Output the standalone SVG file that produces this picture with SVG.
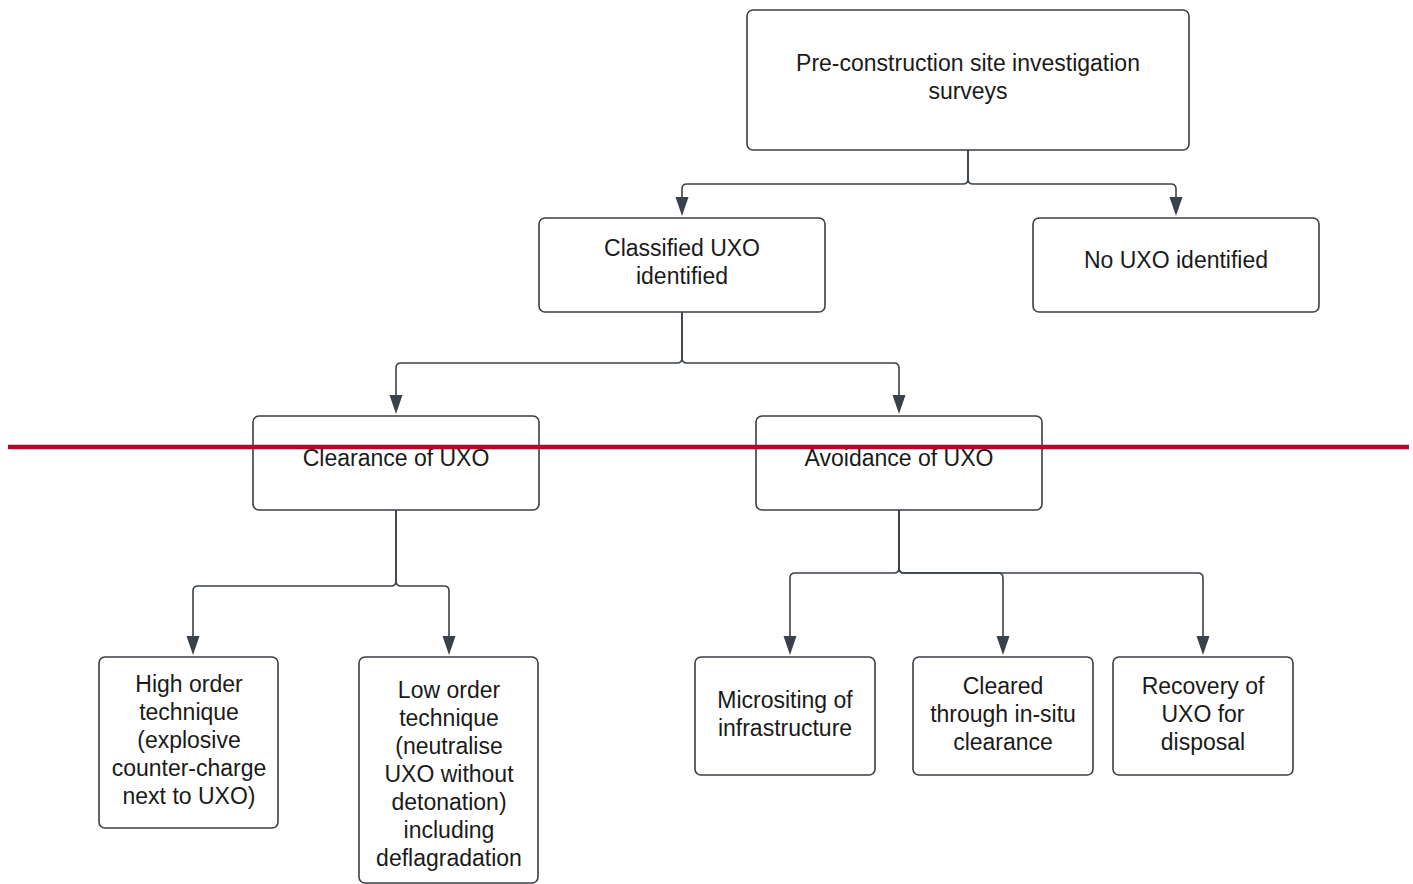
<svg xmlns="http://www.w3.org/2000/svg" width="1413" height="884" viewBox="0 0 1413 884">
<defs>
<style>
.box{fill:#fff;stroke:#3a3f45;stroke-width:1.6}
.t{font-family:"Liberation Sans",Arial,sans-serif;font-size:23px;fill:#1a1a1a;text-anchor:middle}
.c{fill:none;stroke:#3a414a;stroke-width:1.6}
.a{fill:#3a414a}
</style>
</defs>
<rect width="1413" height="884" fill="#fff"/>
<g id="connectors">
<path class="c" d="M968 150 V179 Q968 184 963 184 H687 Q682 184 682 189 V198"/>
<path class="a" d="M675.5 197 H688.5 L682 216 Z"/>
<path class="c" d="M968 150 V179 Q968 184 973 184 H1171 Q1176 184 1176 189 V198"/>
<path class="a" d="M1169.5 197 H1182.5 L1176 216 Z"/>
<path class="c" d="M682 312 V358 Q682 363 677 363 H401 Q396 363 396 368 V396"/>
<path class="a" d="M389.5 395 H402.5 L396 414 Z"/>
<path class="c" d="M682 312 V358 Q682 363 687 363 H894 Q899 363 899 368 V396"/>
<path class="a" d="M892.5 395 H905.5 L899 414 Z"/>
<path class="c" d="M396 510 V581 Q396 586 391 586 H198 Q193 586 193 591 V637"/>
<path class="a" d="M186.5 636 H199.5 L193 655 Z"/>
<path class="c" d="M396 510 V581 Q396 586 401 586 H444 Q449 586 449 591 V637"/>
<path class="a" d="M442.5 636 H455.5 L449 655 Z"/>
<path class="c" d="M899 510 V568 Q899 573 894 573 H795 Q790 573 790 578 V637"/>
<path class="a" d="M783.5 636 H796.5 L790 655 Z"/>
<path class="c" d="M899 510 V568 Q899 573 904 573 H998 Q1003 573 1003 578 V637"/>
<path class="a" d="M996.5 636 H1009.5 L1003 655 Z"/>
<path class="c" d="M899 510 V568 Q899 573 904 573 H1198 Q1203 573 1203 578 V637"/>
<path class="a" d="M1196.5 636 H1209.5 L1203 655 Z"/>
</g>
<g id="n-survey">
<rect class="box" x="747" y="10" width="442" height="140" rx="6"/>
<text class="t" x="968" y="71">Pre-construction site investigation</text>
<text class="t" x="968" y="99">surveys</text>
</g>
<g id="n-classified">
<rect class="box" x="539" y="218" width="286" height="94" rx="6"/>
<text class="t" x="682" y="256">Classified UXO</text>
<text class="t" x="682" y="284">identified</text>
</g>
<g id="n-none">
<rect class="box" x="1033" y="218" width="286" height="94" rx="6"/>
<text class="t" x="1176" y="268">No UXO identified</text>
</g>
<g id="n-clearance">
<rect class="box" x="253" y="416" width="286" height="94" rx="6"/>
<text class="t" x="396" y="466">Clearance of UXO</text>
</g>
<g id="n-avoidance">
<rect class="box" x="756" y="416" width="286" height="94" rx="6"/>
<text class="t" x="899" y="466">Avoidance of UXO</text>
</g>
<g id="n-high">
<rect class="box" x="99" y="657" width="179" height="171" rx="6"/>
<text class="t" x="189" y="692">High order</text>
<text class="t" x="189" y="720">technique</text>
<text class="t" x="189" y="748">(explosive</text>
<text class="t" x="189" y="776">counter-charge</text>
<text class="t" x="189" y="804">next to UXO)</text>
</g>
<g id="n-low">
<rect class="box" x="359" y="657" width="179" height="226" rx="6"/>
<text class="t" x="449" y="698">Low order</text>
<text class="t" x="449" y="726">technique</text>
<text class="t" x="449" y="754">(neutralise</text>
<text class="t" x="449" y="782">UXO without</text>
<text class="t" x="449" y="810">detonation)</text>
<text class="t" x="449" y="838">including</text>
<text class="t" x="449" y="866">deflagradation</text>
</g>
<g id="n-micro">
<rect class="box" x="695" y="657" width="180" height="118" rx="6"/>
<text class="t" x="785" y="708">Micrositing of</text>
<text class="t" x="785" y="736">infrastructure</text>
</g>
<g id="n-insitu">
<rect class="box" x="913" y="657" width="180" height="118" rx="6"/>
<text class="t" x="1003" y="694">Cleared</text>
<text class="t" x="1003" y="722">through in-situ</text>
<text class="t" x="1003" y="750">clearance</text>
</g>
<g id="n-recovery">
<rect class="box" x="1113" y="657" width="180" height="118" rx="6"/>
<text class="t" x="1203" y="694">Recovery of</text>
<text class="t" x="1203" y="722">UXO for</text>
<text class="t" x="1203" y="750">disposal</text>
</g>
<line x1="8" y1="447" x2="1409" y2="447" stroke="#b0092b" stroke-width="4.5"/>
</svg>
